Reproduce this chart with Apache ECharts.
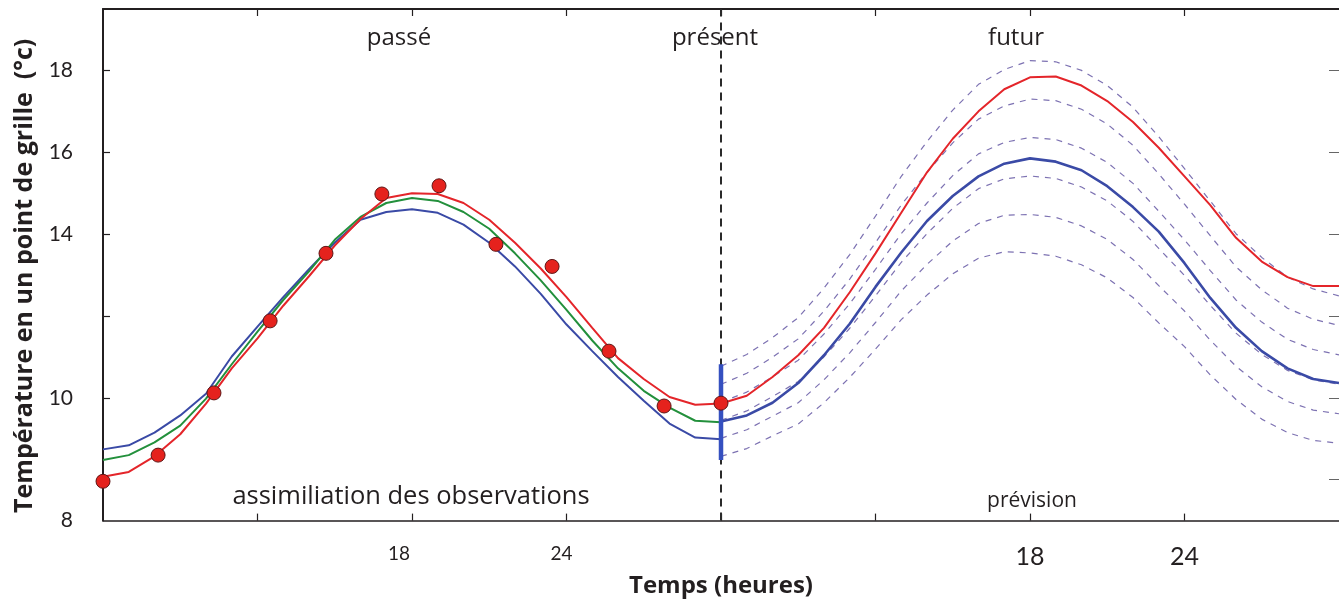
<!DOCTYPE html>
<html><head><meta charset="utf-8">
<script src="https://cdn.jsdelivr.net/npm/echarts@6/dist/echarts.min.js"></script>
<style>html,body{margin:0;padding:0;background:#fff}#c{width:1339px;height:603px}</style>
</head><body><div id="c"></div>
<script>
// ---- data (hours on a continuous 6..54 scale; labels show hour of day) ----
const pastHours = [6,7,8,9,10,11,12,13,14,15,16,17,18,19,20,21,22,23,24,25,26,27,28,29,30];
const redPast   = [8.07,8.19,8.57,9.11,9.86,10.72,11.45,12.25,12.97,13.72,14.37,14.88,15.00,14.98,14.76,14.35,13.79,13.16,12.46,11.71,10.97,10.46,10.02,9.83,9.86];
const greenPast = [8.48,8.60,8.91,9.32,9.98,10.82,11.62,12.39,13.09,13.86,14.42,14.76,14.88,14.81,14.54,14.13,13.53,12.87,12.15,11.40,10.72,10.17,9.76,9.44,9.40];
const bluePast  = [8.74,8.84,9.15,9.57,10.10,11.01,11.74,12.46,13.14,13.79,14.35,14.54,14.61,14.52,14.23,13.79,13.21,12.54,11.79,11.14,10.51,9.93,9.37,9.03,8.99];

const obsHours = [6,8.14,10.31,12.49,14.66,16.83,19.05,21.26,23.44,25.65,27.79,30];
const obsTemps = [7.96,8.60,10.12,11.88,13.53,14.98,15.18,13.75,13.21,11.14,9.80,9.87];

const futureHours = [30,31,32,33,34,35,36,37,38,39,40,41,42,43,44,45,46,47,48,49,50,51,52,53,54];
const redFuture  = [9.86,10.05,10.51,11.04,11.71,12.58,13.53,14.52,15.51,16.33,17.00,17.54,17.83,17.85,17.63,17.25,16.74,16.11,15.41,14.71,13.91,13.33,12.95,12.73,12.73];
const blueFuture = [9.42,9.57,9.88,10.36,11.04,11.81,12.71,13.55,14.32,14.93,15.41,15.72,15.85,15.77,15.56,15.17,14.66,14.06,13.29,12.44,11.71,11.14,10.72,10.46,10.36];
const member1 = [10.77,11.06,11.47,11.96,12.68,13.50,14.44,15.41,16.26,17.03,17.66,18.02,18.24,18.21,18.00,17.63,17.10,16.38,15.60,14.81,14.01,13.43,12.95,12.66,12.49];
const member2 = [10.33,10.60,10.99,11.44,12.12,12.90,13.79,14.71,15.51,16.23,16.81,17.13,17.30,17.26,17.05,16.69,16.17,15.47,14.73,13.96,13.20,12.64,12.19,11.92,11.77];
const member3 = [9.89,10.14,10.51,10.92,11.56,12.30,13.14,14.01,14.76,15.43,15.96,16.24,16.36,16.31,16.10,15.75,15.24,14.56,13.86,13.11,12.39,11.85,11.43,11.18,11.05];
const member4 = [9.45,9.68,10.03,10.40,11.00,11.70,12.49,13.31,14.01,14.63,15.11,15.35,15.42,15.36,15.15,14.81,14.31,13.65,12.99,12.26,11.58,11.06,10.67,10.44,10.33];
const member5 = [9.01,9.22,9.55,9.88,10.44,11.10,11.84,12.61,13.26,13.83,14.26,14.46,14.48,14.41,14.20,13.87,13.38,12.74,12.12,11.41,10.77,10.27,9.91,9.70,9.61];
const member6 = [8.57,8.76,9.07,9.36,9.88,10.50,11.19,11.91,12.51,13.03,13.41,13.57,13.54,13.46,13.25,12.93,12.45,11.83,11.25,10.56,9.96,9.48,9.15,8.96,8.89];

const presentHour = 30;
const spreadAtPresent = [8.48, 10.82];
const yTickLabels = {7:'8', 10:'10', 14:'14', 16:'16', 18:'18'};
const xTickLabels = {18:'18', 24:'24', 42:'18', 48:'24'};

// ---- chart ----
const pairs = (xs, ys) => xs.map((x, i) => [x, ys[i]]);
const redAll = pairs(pastHours, redPast).concat(pairs(futureHours.slice(1), redFuture.slice(1)));
const FONT = 'Lato';
const TXT = '"Open Sans"';
const ink = '#231f20';

const chart = echarts.init(document.getElementById('c'), null, {renderer: 'canvas'});
const members = [member1, member2, member3, member4, member5, member6].map((m, k) => ({
  type: 'line', name: 'membre ' + (k + 1), data: pairs(futureHours, m), showSymbol: false,
  lineStyle: {color: '#7d72b2', width: 1.2, type: [6, 6]}, z: 2, silent: true
}));

chart.setOption({
  animation: false,
  backgroundColor: '#fff',
  grid: {left: 103, right: 0, top: 9, bottom: 78},
  xAxis: [{
    type: 'value', min: 6, max: 54, interval: 6, position: 'bottom',
    axisLine: {show: true, lineStyle: {color: ink, width: 1.6}},
    axisTick: {show: true, inside: true, length: 7, customValues: [12,18,24,30,36,42,48], lineStyle: {color: ink, width: 1.2}},
    axisLabel: {
      customValues: [18, 24, 42, 48], margin: 18, color: ink, fontFamily: FONT,
      formatter: v => (v < 30 ? '{s' + (v === 18 ? '1' : '2') + '|' : '{b|') + xTickLabels[v] + '}',
      rich: {
        s1: {fontSize: 19, lineHeight: 30, fontFamily: FONT, color: ink, padding: [0, 26, 0, 0]},
        s2: {fontSize: 19, lineHeight: 30, fontFamily: FONT, color: ink, padding: [0, 10, 0, 0]},
        b: {fontSize: 25, lineHeight: 36, fontFamily: FONT, color: ink}
      }
    },
    splitLine: {show: false},
    name: 'Temps (heures)', nameLocation: 'middle', nameGap: 47,
    nameTextStyle: {fontFamily: TXT, fontWeight: 'bold', fontSize: 24, color: ink}
  }, {
    type: 'value', min: 6, max: 54, interval: 6, position: 'top',
    axisLine: {show: true, lineStyle: {color: ink, width: 2}},
    axisTick: {show: true, inside: true, length: 7, customValues: [12,18,24,30,36,42,48], lineStyle: {color: ink, width: 1.2}},
    axisLabel: {show: false}, splitLine: {show: false}
  }],
  yAxis: [{
    type: 'value', min: 7, max: 19.5, position: 'left',
    axisLine: {show: true, lineStyle: {color: ink, width: 2}},
    axisTick: {show: true, inside: true, length: 7, customValues: [10,12,14,16,18], lineStyle: {color: ink, width: 1.2}},
    axisLabel: {customValues: [7,10,14,16,18], formatter: v => yTickLabels[v], margin: 30,
      fontFamily: FONT, fontSize: 21, color: ink},
    splitLine: {show: false},
    name: 'Température en un point de grille  (°c)', nameLocation: 'middle', nameGap: 62,
    nameTextStyle: {fontFamily: TXT, fontWeight: 'bold', fontSize: 25, color: ink, padding: [0, 22, 0, 0]}
  }, {
    type: 'value', min: 7, max: 19.5, position: 'right',
    axisLine: {show: false},
    axisTick: {show: true, inside: true, length: 10, customValues: [8,10,12,14,16,18], lineStyle: {color: '#666', width: 1}},
    axisLabel: {show: false}, splitLine: {show: false}
  }],
  graphic: [
    {type: 'text', x: 399, y: 38, style: {text: 'passé', fontFamily: TXT, fontSize: 24, fill: ink, align: 'center', verticalAlign: 'middle'}},
    {type: 'text', x: 715, y: 38, style: {text: 'présent', fontFamily: TXT, fontSize: 24, fill: ink, align: 'center', verticalAlign: 'middle'}},
    {type: 'text', x: 1016, y: 38, style: {text: 'futur', fontFamily: TXT, fontSize: 24, fill: ink, align: 'center', verticalAlign: 'middle'}},
    {type: 'text', x: 411, y: 497, style: {text: 'assimiliation des observations', fontFamily: TXT, fontSize: 25.5, fill: ink, align: 'center', verticalAlign: 'middle'}},
    {type: 'text', x: 1032, y: 501, style: {text: 'prévision', fontFamily: TXT, fontSize: 21, fill: ink, align: 'center', verticalAlign: 'middle'}}
  ],
  series: [
    ...members,
    {type: 'line', name: 'présent', data: [[presentHour, 7], [presentHour, 19.5]], showSymbol: false,
      lineStyle: {color: '#2a2a2a', width: 2, type: [8, 6]}, z: 3, silent: true},
    {type: 'line', name: 'prévision', data: pairs(futureHours, blueFuture), showSymbol: false,
      lineStyle: {color: '#3a4aa6', width: 2.6}, z: 4},
    {type: 'line', name: 'ébauche', data: pairs(pastHours, bluePast), showSymbol: false,
      lineStyle: {color: '#3a4aa6', width: 2}, z: 4},
    {type: 'line', name: 'analyse', data: pairs(pastHours, greenPast), showSymbol: false,
      lineStyle: {color: '#23903c', width: 2}, z: 5},
    {type: 'line', name: 'vérité', data: redAll, showSymbol: false,
      lineStyle: {color: '#e4252a', width: 2}, z: 6},
    {type: 'line', name: 'incertitude', data: [[presentHour, spreadAtPresent[0]], [presentHour, spreadAtPresent[1]]], showSymbol: false,
      lineStyle: {color: '#3550c0', width: 4.5}, z: 7},
    {type: 'scatter', name: 'observations', data: pairs(obsHours, obsTemps), symbol: 'circle', symbolSize: 14,
      itemStyle: {color: '#e5221d', borderColor: '#5e1616', borderWidth: 1, opacity: 1}, z: 8}
  ]
});
</script>
</body></html>
